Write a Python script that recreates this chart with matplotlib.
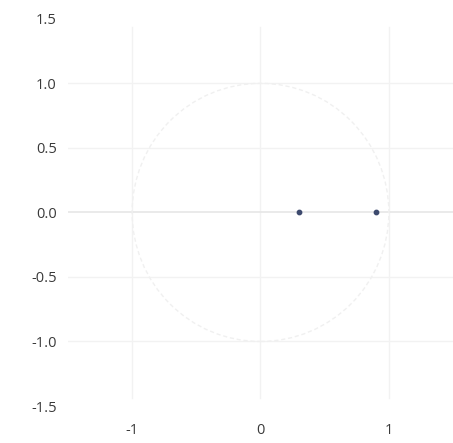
import numpy as np
import matplotlib.pyplot as plt
from matplotlib.patches import Circle

# pole locations (real, imag)
re_vals = [0.3, 0.9]
im_vals = [0.0, 0.0]
xticks = [-1, 0, 1]
yticks = [-1.5, -1.0, -0.5, 0.0, 0.5, 1.0, 1.5]

plt.rcParams['font.family'] = ['Open Sans', 'DejaVu Sans']

fig = plt.figure(figsize=(4.53, 4.43), dpi=100)
ax = fig.add_axes([0.150, 0.0835, 0.850, 0.874])

ax.set_xlim(-1.5, 1.5)
ax.set_ylim(-1.5, 1.5)

for y in [-1.0, -0.5, 0.5, 1.0]:
    ax.axhline(y, color='#f2f2f2', lw=1, zorder=0)
for x in xticks:
    ax.axvline(x, ymin=0.02, ymax=0.98, color='#f2f2f2', lw=1, zorder=0)
ax.axhline(0, color='#e8e8e8', lw=1.3, zorder=0)

ax.add_patch(Circle((0, 0), 1, fill=False, ec='#f0f0f0', lw=1, ls=(0, (3, 2)), zorder=1))

ax.scatter(re_vals, im_vals, s=10, color='#3d4a6e', zorder=3)

ax.set_xticks(xticks)
ax.set_xticklabels([str(t) for t in xticks])
ax.set_yticks(yticks)
ax.set_yticklabels(['%.1f' % t for t in yticks])
ax.tick_params(length=0, labelsize=10.5, colors='#3a3a3a')
ax.tick_params(axis='x', pad=12)
ax.tick_params(axis='y', pad=8)
for s in ax.spines.values():
    s.set_visible(False)

fig.savefig('out.png', dpi=100)
